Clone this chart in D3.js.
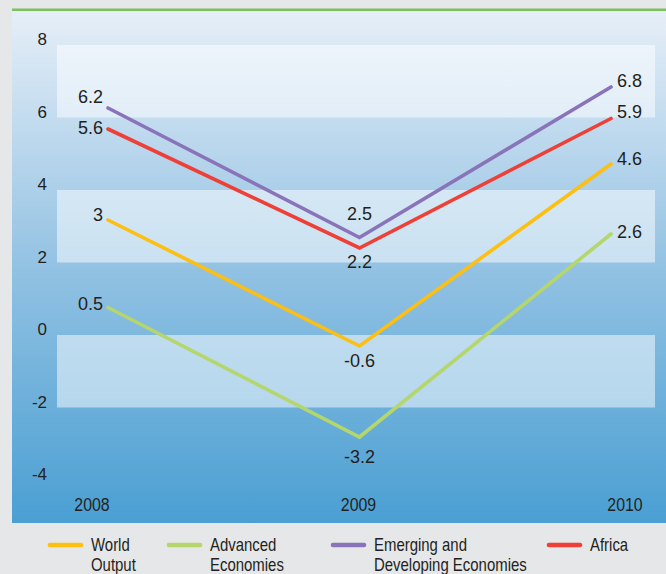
<!DOCTYPE html>
<html>
<head>
<meta charset="utf-8">
<script src="https://cdn.jsdelivr.net/npm/d3@7"></script>
<style>
  html, body { margin: 0; padding: 0; background: #e6e7e8; }
  svg { display: block; }
</style>
</head>
<body>
<div id="chart"></div>
<script>
// ---- data ----
const years = ["2008", "2009", "2010"];
const yTicks = [8, 6, 4, 2, 0, -2, -4];
const worldOutput = [3, -0.6, 4.6];
const advancedEconomies = [0.5, -3.2, 2.6];
const emergingEconomies = [6.2, 2.5, 6.8];
const africa = [5.6, 2.2, 5.9];
const seriesNames = [["World", "Output"], ["Advanced", "Economies"], ["Emerging and", "Developing Economies"], ["Africa"]];

// ---- styling / layout ----
const W = 666, H = 574;
const colors = ["#fdbf12", "#b4d66b", "#8a74b9", "#ee4036"];
// baseline offsets of value labels relative to the point
const labelDy = [[1, 21, 1], [2, 26, 4], [-5, -18, 0], [5, 20, -1]];
const series = [
  { name: seriesNames[0], values: worldOutput, color: colors[0], dy: labelDy[0] },
  { name: seriesNames[1], values: advancedEconomies, color: colors[1], dy: labelDy[1] },
  { name: seriesNames[2], values: emergingEconomies, color: colors[2], dy: labelDy[2] },
  { name: seriesNames[3], values: africa, color: colors[3], dy: labelDy[3] }
];
const legendX = [50, 169, 333, 549];
const FONT = "'Liberation Sans', Arial, Helvetica, sans-serif";

const svg = d3.select("#chart").append("svg").attr("width", W).attr("height", H);
const defs = svg.append("defs");
const grad = defs.append("linearGradient").attr("id", "bg").attr("x1", 0).attr("y1", 0).attr("x2", 0).attr("y2", 1);
grad.append("stop").attr("offset", "0%").attr("stop-color", "#e7eff8");
grad.append("stop").attr("offset", "50%").attr("stop-color", "#93c2e3");
grad.append("stop").attr("offset", "100%").attr("stop-color", "#4a9fd3");

// panel
svg.append("rect").attr("x", 12).attr("y", 9).attr("width", W - 12).attr("height", 523 - 9).attr("fill", "url(#bg)");
svg.append("line").attr("x1", 12).attr("x2", W).attr("y1", 9.7).attr("y2", 9.7)
  .attr("stroke", "#79c25b").attr("stroke-width", 2.6);

// scales
const yAxis = d3.scaleLinear().domain([-4, 8]).range([480, 45]);
const yLine = d3.scaleLinear().domain([-4, 8]).range([465, 45]);
const xPoint = d3.scalePoint().domain(years).range([108, 611]);
const xLabel = d3.scalePoint().domain(years).range([92, 625]);

// bands
const bandPairs = [[6, 8], [2, 4], [-2, 0]];
svg.append("g").selectAll("rect").data(bandPairs).join("rect")
  .attr("x", 57).attr("width", 655 - 57)
  .attr("y", d => yAxis(d[1])).attr("height", d => yAxis(d[0]) - yAxis(d[1]))
  .attr("fill", "#ffffff").attr("fill-opacity", 0.5);

// y tick labels
svg.append("g").selectAll("text").data(yTicks).join("text")
  .attr("x", 47).attr("y", d => yAxis(d))
  .attr("text-anchor", "end")
  .attr("font-family", FONT)
  .attr("font-size", 17).attr("fill", "#231f20")
  .text(d => d);

// x labels (condensed look)
svg.append("g").selectAll("text").data(years).join("text")
  .attr("transform", d => `translate(${xLabel(d)},511) scale(0.86,1)`)
  .attr("text-anchor", "middle")
  .attr("font-family", FONT)
  .attr("font-size", 18.5).attr("fill", "#231f20")
  .text(d => d);

// lines
const line = d3.line().x((d, i) => xPoint(years[i])).y(d => yLine(d));
svg.append("g").selectAll("path").data(series).join("path")
  .attr("d", s => line(s.values))
  .attr("fill", "none").attr("stroke", s => s.color)
  .attr("stroke-width", 3.6).attr("stroke-linejoin", "miter").attr("stroke-linecap", "round");

// value labels
const lab = svg.append("g")
  .attr("font-family", FONT)
  .attr("font-size", 18).attr("fill", "#231f20");
series.forEach(s => {
  s.values.forEach((v, i) => {
    const px = xPoint(years[i]), py = yLine(v);
    const anchor = i === 0 ? "end" : (i === 1 ? "middle" : "start");
    const x = i === 0 ? px - 5 : (i === 1 ? px : px + 6);
    lab.append("text").attr("x", x).attr("y", py + s.dy[i])
      .attr("text-anchor", anchor).text(v);
  });
});

// legend
const leg = svg.append("g");
series.forEach((s, i) => {
  const g = leg.append("g").attr("transform", `translate(${legendX[i]},0)`);
  g.append("line").attr("x1", 0).attr("x2", 31).attr("y1", 545).attr("y2", 545)
    .attr("stroke", s.color).attr("stroke-width", 4.6).attr("stroke-linecap", "round");
  const t = g.append("text").attr("transform", "translate(41,0) scale(0.83,1)")
    .attr("font-family", FONT)
    .attr("font-size", 18).attr("fill", "#231f20");
  s.name.forEach((ln, k) => t.append("tspan").attr("x", 0).attr("y", 551 + k * 20).text(ln));
});
</script>
</body>
</html>
